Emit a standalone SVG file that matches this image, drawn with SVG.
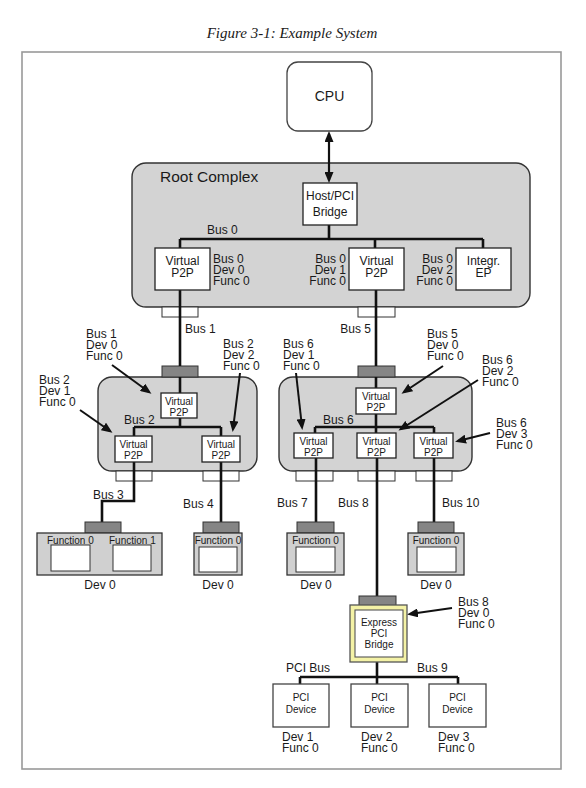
<svg xmlns="http://www.w3.org/2000/svg" width="586" height="788" viewBox="0 0 586 788">
<style>
text{font-family:"Liberation Sans",Arial,sans-serif;fill:#1a1a1a}
.t12{font-size:12px}
.t10{font-size:10px}
.mid{text-anchor:middle}
.end{text-anchor:end}
.title{font-family:"Liberation Serif","Times New Roman",serif;font-style:italic;font-size:15px;text-anchor:middle}
.frame{fill:#fff;stroke:#999;stroke-width:1.6}
.cx{fill:#d3d3d3;stroke:#333;stroke-width:1.4}
.box{fill:#fff;stroke:#222;stroke-width:1.3}
.port{fill:#fff;stroke:#333;stroke-width:1}
.dport{fill:#858585;stroke:#333;stroke-width:1}
.dev{fill:#d0d0d0;stroke:#333;stroke-width:1.3}
.bus{stroke:#111;stroke-width:2.6;fill:none}
.arr{stroke:#111;stroke-width:2;fill:none;marker-end:url(#ah)}
</style>
<defs>
<marker id="ah" markerWidth="11" markerHeight="9" refX="8" refY="4.5" orient="auto-start-reverse" markerUnits="userSpaceOnUse">
<path d="M0,0 L11,4.5 L0,9 z" fill="#111"/>
</marker>
</defs>

<text class="title" x="292" y="38">Figure 3-1: Example System</text>
<rect class="frame" x="22" y="52" width="539" height="717"/>

<!-- containers -->
<g id="root-complex">
<rect class="cx" x="132" y="163" width="398" height="144" rx="14"/>
<text x="160" y="182" style="font-size:15.5px">Root Complex</text>
</g>
<g id="switch-left">
<rect class="cx" x="98" y="377" width="159" height="94" rx="14"/>
<rect class="dport" x="162" y="366" width="36" height="11"/>
</g>
<g id="switch-right">
<rect class="cx" x="279" y="377" width="193" height="94" rx="14"/>
<rect class="dport" x="358" y="366" width="37" height="11"/>
</g>

<!-- ports -->
<g id="ports">
<rect class="port" x="162" y="307" width="36" height="10"/>
<rect class="port" x="358" y="307" width="37" height="10"/>
<rect class="port" x="116" y="471" width="36" height="10"/>
<rect class="port" x="203" y="471" width="36" height="10"/>
<rect class="port" x="296" y="471" width="37" height="10"/>
<rect class="port" x="358" y="471" width="37" height="10"/>
<rect class="port" x="416" y="471" width="36" height="10"/>
</g>

<!-- connectors -->
<g id="connectors">
<line x1="329" y1="134" x2="329" y2="180" stroke="#111" stroke-width="2.2" marker-start="url(#ah)" marker-end="url(#ah)"/>
<path class="bus" d="M329,225 V239 M180,239 H483 M180,239 V248 M375,239 V248 M483,239 V248"/>
<path class="bus" d="M180,290 V366 M376,290 V366"/>
<path class="bus" d="M180,377 V393 M180,418 V427 M134,427 H221 M134,427 V436 M221,427 V436"/>
<path class="bus" d="M376,377 V388 M376,414 V433 M315,427 H434 M315,427 V433 M434,427 V433"/>
<path class="bus" d="M134,462 V501 H102 V522 M221,462 V522"/>
<path class="bus" d="M316,458 V522 M377,458 V596 M434,458 V522"/>
<path class="bus" d="M377,662 V684 M300,677 H458 M300,677 V684 M458,677 V684"/>
<line class="arr" x1="112" y1="365" x2="149" y2="392"/>
<line class="arr" x1="240" y1="373" x2="233" y2="429"/>
<line class="arr" x1="80" y1="410" x2="110" y2="431"/>
<line class="arr" x1="296" y1="373" x2="302" y2="427"/>
<line class="arr" x1="443" y1="366" x2="404" y2="392"/>
<line class="arr" x1="478" y1="380" x2="401" y2="429"/>
<line class="arr" x1="490" y1="433" x2="458" y2="441"/>
<line class="arr" x1="452" y1="608" x2="410" y2="614"/>
</g>

<!-- CPU -->
<g id="cpu">
<rect class="box" x="287" y="62" width="85" height="69" rx="11" style="stroke:#444"/>
<text class="mid" x="329.5" y="101" style="font-size:14px">CPU</text>
</g>

<g id="host-pci-bridge">
<rect class="box" x="303" y="183" width="54" height="42"/>
<text class="t12 mid" x="330" y="200">Host/PCI</text>
<text class="t12 mid" x="330" y="216">Bridge</text>
</g>
<text class="t12" x="207" y="234">Bus 0</text>

<g id="rc-p2p-0">
<rect class="box" x="155" y="248" width="55" height="42"/>
<text class="t12 mid" x="182.5" y="265">Virtual</text>
<text class="t12 mid" x="182.5" y="277">P2P</text>
<text class="t12" x="213" y="263">Bus 0</text>
<text class="t12" x="213" y="274">Dev 0</text>
<text class="t12" x="213" y="285">Func 0</text>
</g>
<g id="rc-p2p-1">
<rect class="box" x="349" y="248" width="55" height="42"/>
<text class="t12 mid" x="376.5" y="265">Virtual</text>
<text class="t12 mid" x="376.5" y="277">P2P</text>
<text class="t12 end" x="346" y="263">Bus 0</text>
<text class="t12 end" x="346" y="274">Dev 1</text>
<text class="t12 end" x="346" y="285">Func 0</text>
</g>
<g id="rc-integr-ep">
<rect class="box" x="456" y="248" width="55" height="42"/>
<text class="t12 mid" x="483.5" y="265">Integr.</text>
<text class="t12 mid" x="483.5" y="277">EP</text>
<text class="t12 end" x="453" y="263">Bus 0</text>
<text class="t12 end" x="453" y="274">Dev 2</text>
<text class="t12 end" x="453" y="285">Func 0</text>
</g>

<text class="t12" x="185" y="333">Bus 1</text>
<text class="t12 end" x="371" y="333">Bus 5</text>

<!-- left switch contents -->
<g id="ls-up">
<rect class="box" x="161" y="393" width="36" height="25"/>
<text class="t10 mid" x="179" y="405">Virtual</text>
<text class="t10 mid" x="179" y="416">P2P</text>
<text class="t12" x="86" y="338">Bus 1</text>
<text class="t12" x="86" y="349">Dev 0</text>
<text class="t12" x="86" y="360">Func 0</text>
</g>
<text class="t12" x="124" y="424">Bus 2</text>
<g id="ls-dev1">
<rect class="box" x="115" y="436" width="37" height="26"/>
<text class="t10 mid" x="133.5" y="448">Virtual</text>
<text class="t10 mid" x="133.5" y="459">P2P</text>
<text class="t12" x="39" y="384">Bus 2</text>
<text class="t12" x="39" y="395">Dev 1</text>
<text class="t12" x="39" y="406">Func 0</text>
</g>
<g id="ls-dev2">
<rect class="box" x="202" y="436" width="38" height="26"/>
<text class="t10 mid" x="221" y="448">Virtual</text>
<text class="t10 mid" x="221" y="459">P2P</text>
<text class="t12" x="223" y="348">Bus 2</text>
<text class="t12" x="223" y="359">Dev 2</text>
<text class="t12" x="223" y="370">Func 0</text>
</g>

<!-- right switch contents -->
<g id="rs-up">
<rect class="box" x="356" y="388" width="40" height="26"/>
<text class="t10 mid" x="376" y="400">Virtual</text>
<text class="t10 mid" x="376" y="411">P2P</text>
<text class="t12" x="427" y="338">Bus 5</text>
<text class="t12" x="427" y="349">Dev 0</text>
<text class="t12" x="427" y="360">Func 0</text>
</g>
<text class="t12" x="323" y="424">Bus 6</text>
<g id="rs-dev1">
<rect class="box" x="294" y="433" width="39" height="25"/>
<text class="t10 mid" x="313.5" y="445">Virtual</text>
<text class="t10 mid" x="313.5" y="456">P2P</text>
<text class="t12" x="283" y="348">Bus 6</text>
<text class="t12" x="283" y="359">Dev 1</text>
<text class="t12" x="283" y="370">Func 0</text>
</g>
<g id="rs-dev2">
<rect class="box" x="357" y="433" width="39" height="25"/>
<text class="t10 mid" x="376.5" y="445">Virtual</text>
<text class="t10 mid" x="376.5" y="456">P2P</text>
<text class="t12" x="482" y="364">Bus 6</text>
<text class="t12" x="482" y="375">Dev 2</text>
<text class="t12" x="482" y="386">Func 0</text>
</g>
<g id="rs-dev3">
<rect class="box" x="414" y="433" width="39" height="25"/>
<text class="t10 mid" x="433.5" y="445">Virtual</text>
<text class="t10 mid" x="433.5" y="456">P2P</text>
<text class="t12" x="496" y="427">Bus 6</text>
<text class="t12" x="496" y="438">Dev 3</text>
<text class="t12" x="496" y="449">Func 0</text>
</g>

<!-- bus labels -->
<text class="t12" x="93" y="499">Bus 3</text>
<text class="t12" x="183" y="508">Bus 4</text>
<text class="t12" x="277" y="507">Bus 7</text>
<text class="t12" x="338" y="507">Bus 8</text>
<text class="t12" x="442" y="507">Bus 10</text>

<!-- endpoint devices -->
<g id="dev-bus3">
<rect class="dport" x="85" y="522" width="36" height="11"/>
<rect class="dev" x="37" y="533" width="125" height="42"/>
<text class="t10" x="47" y="544">Function 0</text>
<text class="t10" x="109" y="544">Function 1</text>
<rect class="port" x="51" y="545" width="39" height="26"/>
<rect class="port" x="113" y="545" width="38" height="26"/>
<text class="t12 mid" x="100" y="589">Dev 0</text>
</g>
<g id="dev-bus4">
<rect class="dport" x="203" y="522" width="36" height="11"/>
<rect class="dev" x="194" y="533" width="48" height="42"/>
<text class="t10 mid" x="218" y="544">Function 0</text>
<rect class="port" x="199" y="547" width="38" height="25"/>
<text class="t12 mid" x="218" y="589">Dev 0</text>
</g>
<g id="dev-bus7">
<rect class="dport" x="297" y="522" width="37" height="11"/>
<rect class="dev" x="287" y="533" width="57" height="42"/>
<text class="t10 mid" x="315.5" y="544">Function 0</text>
<rect class="port" x="296" y="547" width="39" height="25"/>
<text class="t12 mid" x="316" y="589">Dev 0</text>
</g>
<g id="dev-bus10">
<rect class="dport" x="418" y="522" width="36" height="11"/>
<rect class="dev" x="408" y="533" width="56" height="42"/>
<text class="t10 mid" x="436" y="544">Function 0</text>
<rect class="port" x="417" y="547" width="39" height="25"/>
<text class="t12 mid" x="436" y="589">Dev 0</text>
</g>

<!-- Express PCI bridge -->
<g id="express-pci-bridge">
<rect class="dport" x="359" y="596" width="37" height="10"/>
<rect x="350" y="605" width="57" height="57" fill="#f4f2a6" stroke="#555" stroke-width="1.3"/>
<rect x="355" y="610" width="48" height="47" fill="#fff" stroke="#555" stroke-width="1.1"/>
<text class="t10 mid" x="379" y="626">Express</text>
<text class="t10 mid" x="379" y="637">PCI</text>
<text class="t10 mid" x="379" y="648">Bridge</text>
<text class="t12" x="458" y="606">Bus 8</text>
<text class="t12" x="458" y="617">Dev 0</text>
<text class="t12" x="458" y="628">Func 0</text>
</g>
<text class="t12" x="286" y="672">PCI Bus</text>
<text class="t12" x="417" y="672">Bus 9</text>

<g id="pci-dev-1">
<rect class="box" x="273" y="684" width="56" height="43" style="stroke:#444"/>
<text class="t10 mid" x="301" y="701">PCI</text>
<text class="t10 mid" x="301" y="713">Device</text>
<text class="t12" x="282" y="741">Dev 1</text>
<text class="t12" x="282" y="752">Func 0</text>
</g>
<g id="pci-dev-2">
<rect class="box" x="351" y="684" width="57" height="43" style="stroke:#444"/>
<text class="t10 mid" x="379.5" y="701">PCI</text>
<text class="t10 mid" x="379.5" y="713">Device</text>
<text class="t12" x="361" y="741">Dev 2</text>
<text class="t12" x="361" y="752">Func 0</text>
</g>
<g id="pci-dev-3">
<rect class="box" x="429" y="684" width="57" height="43" style="stroke:#444"/>
<text class="t10 mid" x="457.5" y="701">PCI</text>
<text class="t10 mid" x="457.5" y="713">Device</text>
<text class="t12" x="438" y="741">Dev 3</text>
<text class="t12" x="438" y="752">Func 0</text>
</g>
</svg>
